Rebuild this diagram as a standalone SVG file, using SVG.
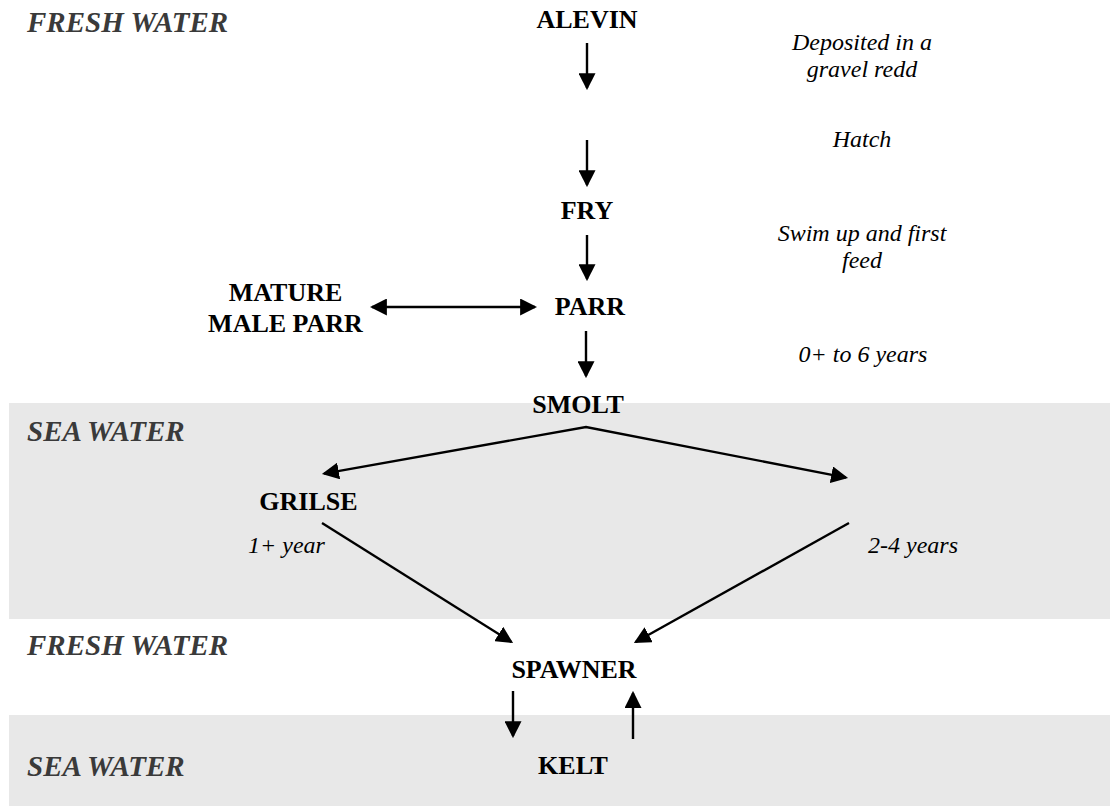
<svg xmlns="http://www.w3.org/2000/svg" width="1110" height="807" viewBox="0 0 1110 807">
<style>
.zone{font-family:"Liberation Serif","Times New Roman",serif;font-weight:bold;font-style:italic;font-size:29px;fill:#3a3a3a}
.node{font-family:"Liberation Serif","Times New Roman",serif;font-weight:bold;font-size:26px;fill:#000;text-anchor:middle}
.note{font-family:"Liberation Serif","Times New Roman",serif;font-style:italic;font-size:24px;fill:#000;text-anchor:middle}
.conn{stroke:#000;stroke-width:2.4;fill:none;marker-end:url(#ah)}
.band{fill:#e8e8e8}
</style>
<defs>
<marker id="ah" markerUnits="userSpaceOnUse" markerWidth="17" markerHeight="17" refX="14" refY="8" orient="auto-start-reverse" viewBox="0 0 16 16">
<path d="M0,0 L16,8 L0,16 z" fill="#000"/>
</marker>
</defs>
<g id="zones">
<rect class="band" x="9" y="403" width="1101" height="216"/>
<rect class="band" x="9" y="715" width="1101" height="91"/>
<text class="zone" x="27" y="32">FRESH WATER</text>
<text class="zone" x="27" y="441">SEA WATER</text>
<text class="zone" x="27" y="655">FRESH WATER</text>
<text class="zone" x="27" y="776">SEA WATER</text>
</g>
<g id="connectors">
<line class="conn" x1="587" y1="43" x2="587" y2="88"/>
<line class="conn" x1="587" y1="140" x2="587" y2="185"/>
<line class="conn" x1="587" y1="235" x2="587" y2="279"/>
<line class="conn" x1="586" y1="331" x2="586" y2="376"/>
<line class="conn" x1="372" y1="307" x2="535" y2="307" style="marker-start:url(#ah)"/>
<polyline class="conn" points="324,473.6 586,427 846,477.6" style="marker-start:url(#ah)"/>
<line class="conn" x1="322" y1="523" x2="511.3" y2="641.9"/>
<line class="conn" x1="849" y1="523" x2="635.7" y2="642"/>
<line class="conn" x1="513" y1="691" x2="513" y2="736"/>
<line class="conn" x1="633" y1="739" x2="633" y2="693"/>
</g>
<g id="alevin"><text class="node" x="587" y="28">ALEVIN</text></g>
<g id="fry"><text class="node" x="587" y="219">FRY</text></g>
<g id="parr"><text class="node" x="590" y="315">PARR</text></g>
<g id="mature-male-parr"><text class="node" x="285.5" y="301">MATURE</text><text class="node" x="285.5" y="332">MALE PARR</text></g>
<g id="smolt"><text class="node" x="578" y="413">SMOLT</text></g>
<g id="grilse"><text class="node" x="308.5" y="510">GRILSE</text></g>
<g id="spawner"><text class="node" x="574" y="678">SPAWNER</text></g>
<g id="kelt"><text class="node" x="573" y="774">KELT</text></g>
<g id="notes">
<text class="note" x="862" y="50">Deposited in a</text>
<text class="note" x="862" y="77">gravel redd</text>
<text class="note" x="862" y="147">Hatch</text>
<text class="note" x="862" y="241">Swim up and first</text>
<text class="note" x="862" y="268">feed</text>
<text class="note" x="863" y="362">0+ to 6 years</text>
<text class="note" x="286.5" y="553">1+ year</text>
<text class="note" x="913" y="553">2-4 years</text>
</g>
</svg>
